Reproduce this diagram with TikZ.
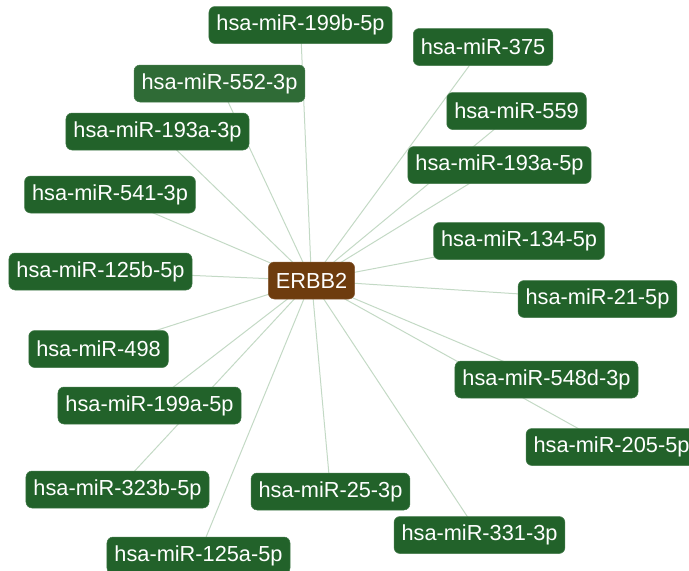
\documentclass[tikz,border=0pt]{standalone}
\usepackage{fontspec}
\setmainfont{Liberation Sans}
\usetikzlibrary{backgrounds}
\definecolor{mirgreen}{HTML}{22622A}
\definecolor{mirlight}{HTML}{2F6B36}
\definecolor{genebrown}{HTML}{6E3C0E}
\definecolor{edgegray}{HTML}{C3D9C5}
\tikzset{
    mirna/.style={fill=mirgreen, draw=mirgreen!85!white, line width=0.5pt, rounded corners=6pt,
        text=white, minimum height=37pt, inner xsep=7.5pt, inner ysep=0pt,
        font=\fontsize{21.75}{24}\selectfont},
    gene/.style={mirna, fill=genebrown, draw=genebrown!85!white},
    link/.style={draw=edgegray, line width=1pt}
}

\begin{document}
\begin{tikzpicture}[x=1pt,y=-1pt]
            \useasboundingbox (0,0) rectangle (689,571);
            \clip (0,0) rectangle (689,571);
            \node[gene] (erbb2) at (311.5,280.5) {ERBB2};
            \foreach \id/\x/\y/\txt in {
                m199b/300.5/25/199b-5p, m375/483/47/375, m193a3/157.5/131.5/193a-3p,
                m559/516.5/111/559, m193a5/499.5/165/193a-5p, m541/110/194.5/541-3p,
                m134/519/241/134-5p, m125b/100.5/271.5/125b-5p, m21/597.5/299/21-5p,
                m498/98.5/349/498, m548d/546.5/379.5/548d-3p, m199a/149.5/405.5/199a-5p,
                m205/611.5/447/205-5p, m323b/117.5/489.5/323b-5p, m25/330.5/491.5/25-3p,
                m331/479.5/535/331-3p, m125a/198.5/555.5/125a-5p}{
                \node[mirna] (\id) at (\x,\y) {hsa-miR-\txt};
            }
            \node[mirna, fill=mirlight] (m552) at (219.5,83.5) {hsa-miR-552-3p};
            % links from the gene to every miRNA, behind the boxes
            \begin{scope}[on background layer]
                \foreach \id in {m199b,m375,m552,m193a3,m559,m193a5,m541,m134,m125b,
                    m21,m498,m548d,m199a,m205,m323b,m25,m331,m125a}{
                    \draw[link] (erbb2.center) -- (\id.center);
                }
            \end{scope}
        \end{tikzpicture}
\end{document}
